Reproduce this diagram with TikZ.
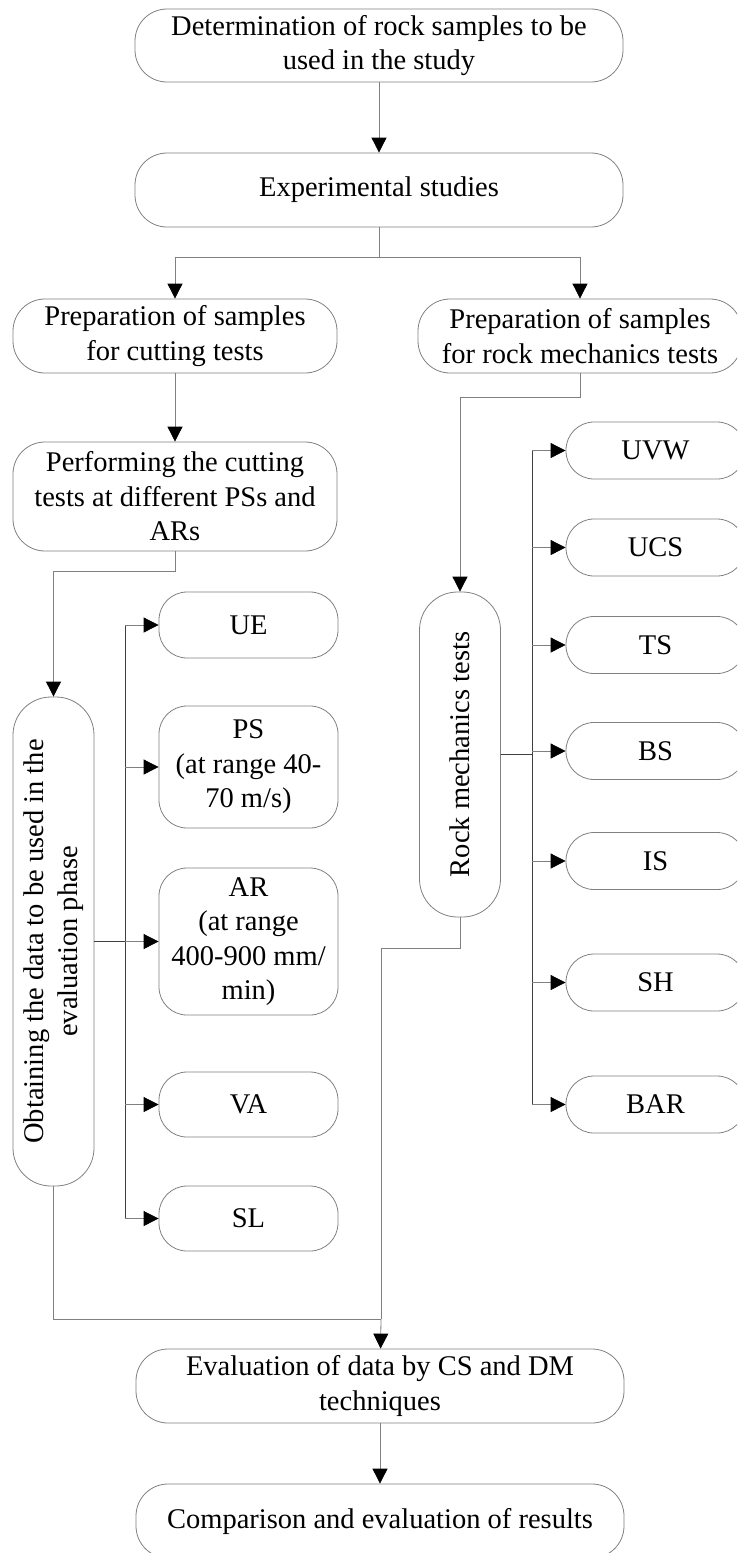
\documentclass[tikz,border=0pt]{standalone}
\usepackage{fontspec}
\setmainfont{Liberation Serif}
\usepackage{graphicx}
\usetikzlibrary{arrows.meta}
\tikzset{
  stepb/.style={draw=black!50, line width=0.8pt, rounded corners=32pt, align=center,
    inner sep=0pt, minimum width=488pt, minimum height=74pt},
  prepb/.style={stepb, minimum width=324pt},
  vertb/.style={draw=black!50, line width=0.8pt, rounded corners=38pt, inner sep=0pt,
    minimum width=81pt},
  itemb/.style={draw=black!50, line width=0.8pt, rounded corners=28pt, align=center,
    inner sep=0pt, minimum width=179pt, minimum height=#1},
  itemb/.default=57pt,
  link/.style={draw=black!50, line width=0.8pt},
  bus/.style={draw=black!75, line width=0.8pt},
  flow/.style={link, -{Triangle[length=15pt,width=15pt,color=black]}},
}

\begin{document}
\begin{tikzpicture}[x=1pt, y=-1pt, font=\fontsize{28.5}{34.5}\selectfont]
  \path[use as bounding box, clip] (0,0) rectangle (737,1553);

  % main column
  \node[stepb, minimum height=73pt] (det) at (379,45.5)
    {Determination of rock samples to be\\used in the study};
  \node[stepb] (exp) at (379,190) {Experimental studies};
  \node[prepb] (prepcut) at (175,336) {Preparation of samples\\for cutting tests};
  \node[prepb] (prepmech) at (580,336) {Preparation of samples\\for rock mechanics tests};
  \node[prepb, minimum height=109pt] (perform) at (175,496.5)
    {Performing the cutting\\tests at different PSs and\\ARs};

  % cutting branch
  \node[vertb, minimum height=489pt] (obtain) at (53.5,941.5)
    {\rotatebox{90}{\begin{tabular}{@{}c@{}}Obtaining the data to be used in the\\evaluation phase\end{tabular}}};
  \node[itemb=66pt] (ue) at (248.5,625) {UE};
  \node[itemb=122pt] (ps) at (248.5,767) {PS\\(at range 40-\\70 m/s)};
  \node[itemb=147pt] (ar) at (248.5,941.5) {AR\\(at range\\400-900 mm/\\min)};
  \node[itemb=65pt] (va) at (248.5,1104.5) {VA};
  \node[itemb=65pt] (sl) at (248.5,1218.5) {SL};

  % rock mechanics branch
  \node[vertb, minimum height=325pt] (rockmech) at (460,754.5)
    {\rotatebox{90}{Rock mechanics tests}};
  \node[itemb] (uvw) at (655.5,450.5) {UVW};
  \node[itemb] (ucs) at (655.5,547.5) {UCS};
  \node[itemb] (ts) at (655.5,645) {TS};
  \node[itemb] (bs) at (655.5,751) {BS};
  \node[itemb] (is) at (655.5,861) {IS};
  \node[itemb] (sh) at (655.5,982.5) {SH};
  \node[itemb] (bar) at (655.5,1104.5) {BAR};

  % evaluation
  \node[stepb] (evaldata) at (380,1386) {Evaluation of data by CS and DM\\techniques};
  \node[stepb] (compare) at (380,1521) {Comparison and evaluation of results};

  % junctions
  \coordinate (split) at (379,257);
  \coordinate (lbus) at (125,941.5);
  \coordinate (rbus) at (532,754.5);
  \coordinate (merge) at (381,1319);

  % connectors
  \draw[flow] (det) -- (exp);
  \draw[link] (exp) -- (split);
  \draw[flow] (split) -| (prepcut);
  \draw[flow] (split) -| (prepmech);
  \draw[flow] (prepcut) -- (perform);
  \draw[flow] (perform.south) -- ++(0,19.5) -| (obtain.north);
  \draw[flow] (prepmech.south) -- ++(0,24) -| (rockmech.north);

  \draw[bus] (obtain.east) -- (lbus);
  \draw[bus] (ue.west -| lbus) -- (sl.west -| lbus);
  \foreach \n in {ue,ps,ar,va,sl}
    \draw[flow] (\n.west -| lbus) -- (\n.west);

  \draw[bus] (rockmech.east) -- (rbus);
  \draw[bus] (uvw.west -| rbus) -- (bar.west -| rbus);
  \foreach \n in {uvw,ucs,ts,bs,is,sh,bar}
    \draw[flow] (\n.west -| rbus) -- (\n.west);

  \draw[link] (obtain.south) |- (merge);
  \draw[link] (rockmech.south) -- ++(0,31) -| (merge);
  \draw[flow] (merge) -- (evaldata);
  \draw[flow] (evaldata) -- (compare);
\end{tikzpicture}
\end{document}
